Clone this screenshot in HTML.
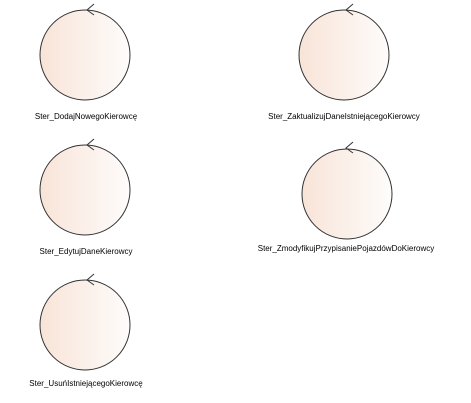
<!DOCTYPE html>
<html><head><style>body{margin:0;background:#fff}svg{display:block}</style></head><body>
<svg width="471" height="403" xmlns="http://www.w3.org/2000/svg">
<defs><linearGradient id="g" x1="0" x2="1" y1="0" y2="0"><stop offset="0" stop-color="#f8e4d8"/><stop offset="1" stop-color="#fefcfb"/></linearGradient></defs>
<g font-family="Liberation Sans, sans-serif" font-size="8" fill="#000" text-anchor="middle">
<g id="c">
</g>
<circle cx="85" cy="55" r="45" fill="url(#g)" stroke="#333" stroke-width="1"/>
<path d="M94 4 L87 10 L94 15" fill="none" stroke="#333"/>
<text x="86" y="119">Ster_DodajNowegoKierowcę</text>

<circle cx="344" cy="55" r="45" fill="url(#g)" stroke="#333"/>
<path d="M353 4 L346 10 L353 15" fill="none" stroke="#333"/>
<text x="344" y="119">Ster_ZaktualizujDaneIstniejącegoKierowcy</text>

<circle cx="85" cy="190" r="45" fill="url(#g)" stroke="#333"/>
<path d="M94 139 L87 145 L94 150" fill="none" stroke="#333"/>
<text x="86" y="254">Ster_EdytujDaneKierowcy</text>

<circle cx="347" cy="194" r="45" fill="url(#g)" stroke="#333"/>
<path d="M353 142 L346 148 L353 153" fill="none" stroke="#333"/>
<text x="346" y="251">Ster_ZmodyfikujPrzypisaniePojazdówDoKierowcy</text>

<circle cx="85" cy="325" r="45" fill="url(#g)" stroke="#333"/>
<path d="M94 274 L87 280 L94 285" fill="none" stroke="#333"/>
<text x="86" y="386">Ster_UsuńIstniejącegoKierowcę</text>
</g>
</svg>
</body></html>
